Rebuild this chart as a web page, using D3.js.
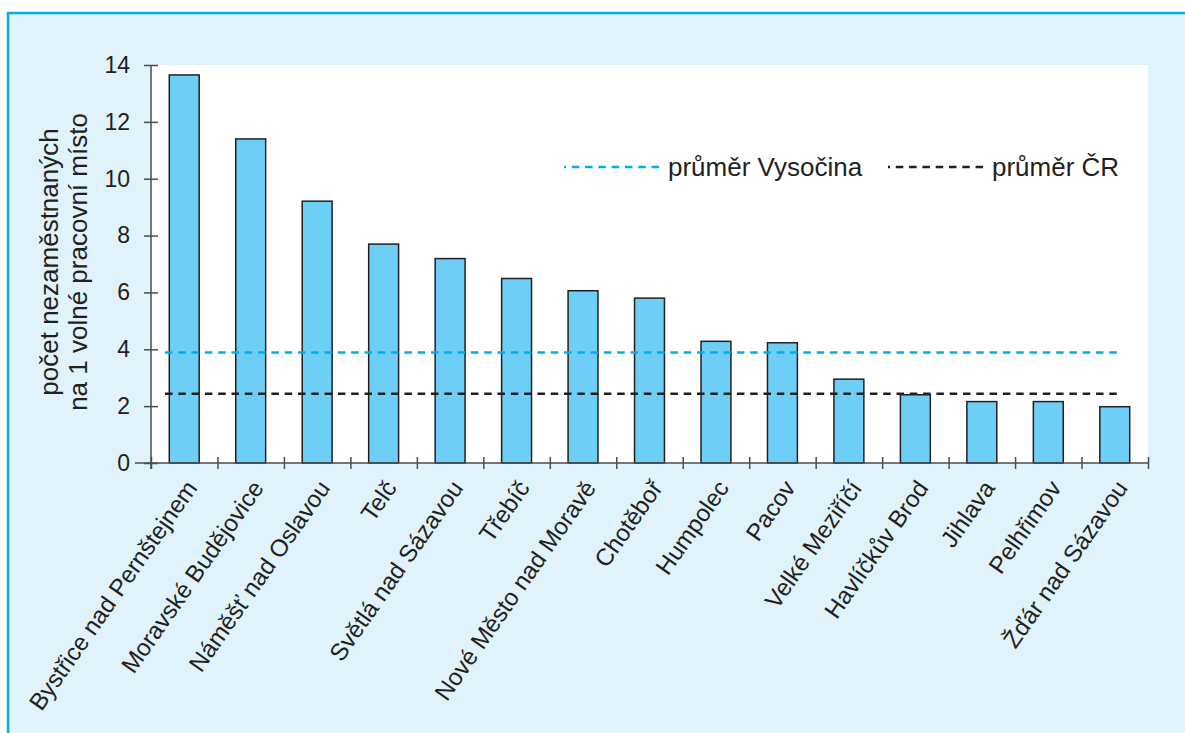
<!DOCTYPE html>
<html lang="cs">
  <head>
    <meta charset="utf-8" />
    <title>Počet nezaměstnaných na 1 volné pracovní místo</title>
    <script src="https://d3js.org/d3.v7.min.js"></script>
    <style type="text/css">
      body { margin: 0; background: #fff; }
      text { font-family: "Liberation Sans", Arial, Helvetica, sans-serif; fill: #231f20; }
    </style>
  </head>
  <body>
    <script type="text/javascript">
      // data
      const towns = [
        "Bystřice nad Pernštejnem", "Moravské Budějovice", "Náměšť nad Oslavou",
        "Telč", "Světlá nad Sázavou", "Třebíč", "Nové Město nad Moravě",
        "Chotěboř", "Humpolec", "Pacov", "Velké Meziříčí", "Havlíčkův Brod",
        "Jihlava", "Pelhřimov", "Žďár nad Sázavou"
      ];
      const values = [13.65, 11.4, 9.21, 7.7, 7.19, 6.49, 6.06, 5.8, 4.28, 4.23, 2.95, 2.4, 2.16, 2.16, 1.98];
      const averages = [
        { name: "průměr Vysočina", value: 3.89, color: "#00aeef" },
        { name: "průměr ČR", value: 2.44, color: "#231f20" }
      ];
      const yTicks = [0, 2, 4, 6, 8, 10, 12, 14];

      const w = 1185;
      const h = 733;
      const plot = { left: 151, right: 1148, top: 65, bottom: 463 };

      const svg = d3.select("body").append("svg")
        .attr("width", w)
        .attr("height", h);

      // light blue frame
      svg.append("rect")
        .attr("x", 7).attr("y", 12)
        .attr("width", w - 7).attr("height", h - 12)
        .attr("fill", "#e0f2fa");
      svg.append("path")
        .attr("d", "M8," + h + "V13H" + w)
        .attr("fill", "none")
        .attr("stroke", "#00aeef")
        .attr("stroke-width", 2.5);

      // white plot area
      svg.append("rect")
        .attr("x", plot.left).attr("y", plot.top)
        .attr("width", plot.right - plot.left)
        .attr("height", plot.bottom - plot.top)
        .attr("fill", "#fff");

      const x = d3.scaleBand()
        .domain(towns)
        .range([plot.left, plot.right])
        .paddingInner(0.55)
        .paddingOuter(0.275);

      const xIdx = d3.scaleLinear()
        .domain([0, towns.length])
        .range([plot.left, plot.right]);

      const y = d3.scaleLinear()
        .domain([0, 14])
        .range([plot.bottom, plot.top]);

      //bars
      svg.append("g")
        .selectAll("rect")
        .data(values)
        .enter()
        .append("rect")
        .attr("x", function (d, i) { return x(towns[i]); })
        .attr("y", function (d) { return y(d); })
        .attr("width", x.bandwidth())
        .attr("height", function (d) { return y(0) - y(d); })
        .attr("fill", "#6dcff6")
        .attr("stroke", "#231f20")
        .attr("stroke-width", 1.5);

      //average lines
      svg.append("g")
        .selectAll("line")
        .data(averages)
        .enter()
        .append("line")
        .attr("x1", plot.left + 14)
        .attr("x2", plot.right - 28)
        .attr("y1", function (d) { return y(d.value); })
        .attr("y2", function (d) { return y(d.value); })
        .attr("stroke", function (d) { return d.color; })
        .attr("stroke-width", 2.5)
        .attr("stroke-dasharray", "7.5,5.8");

      //y axis
      const yAxis = svg.append("g")
        .attr("transform", "translate(" + plot.left + ",0)")
        .call(d3.axisLeft(y).tickValues(yTicks).tickSize(7).tickPadding(14));
      yAxis.selectAll(".tick line").attr("x2", 7).attr("x1", -7);
      yAxis.select(".domain").attr("d", "M0," + (plot.bottom + 6) + "V" + plot.top);

      //x axis, ticks on the band edges
      const xAxis = svg.append("g")
        .attr("transform", "translate(0," + plot.bottom + ")")
        .call(d3.axisBottom(xIdx).tickValues(d3.range(towns.length + 1)).tickSize(6).tickFormat(""));
      xAxis.selectAll(".tick line").attr("y1", -6).attr("y2", 6);
      xAxis.select(".domain").attr("d", "M" + (plot.left - 16) + ",0H" + plot.right);

      svg.selectAll(".domain, .tick line")
        .attr("stroke", "#4d4d4f")
        .attr("stroke-width", 1.5);
      yAxis.selectAll("text")
        .attr("font-size", 23)
        .attr("fill", "#231f20");

      //x labels
      svg.append("g")
        .selectAll("text")
        .data(towns)
        .enter()
        .append("text")
        .attr("transform", function (d) {
          return "translate(" + (x(d) + x.bandwidth() / 2 + 14) + "," + (plot.bottom + 25) + ") rotate(-55)";
        })
        .attr("text-anchor", "end")
        .attr("font-size", 24)
        .text(function (d) { return d; });

      //y title
      const title = svg.append("text")
        .attr("transform", "translate(58,262) rotate(-90)")
        .attr("text-anchor", "middle")
        .attr("font-size", 26);
      title.append("tspan").attr("x", 0).attr("y", 0).text("počet nezaměstnaných");
      title.append("tspan").attr("x", 0).attr("y", 29).text("na 1 volné pracovní místo");

      //legend
      const legendX = [564, 888];
      const legend = svg.append("g")
        .selectAll("g")
        .data(averages)
        .enter()
        .append("g")
        .attr("transform", function (d, i) { return "translate(" + legendX[i] + ",167)"; });
      legend.append("line")
        .attr("x1", 0).attr("x2", 96)
        .attr("stroke", function (d) { return d.color; })
        .attr("stroke-width", 2.5)
        .attr("stroke-dasharray", "2,5.8,7.5,5.8,7.5,5.8,7.5,5.8,7.5,5.8,7.5,5.8,7.5,5.8,7.5,5.8");
      legend.append("text")
        .attr("x", 104)
        .attr("y", 9)
        .attr("font-size", 26)
        .text(function (d) { return d.name; });
    </script>
  </body>
</html>
